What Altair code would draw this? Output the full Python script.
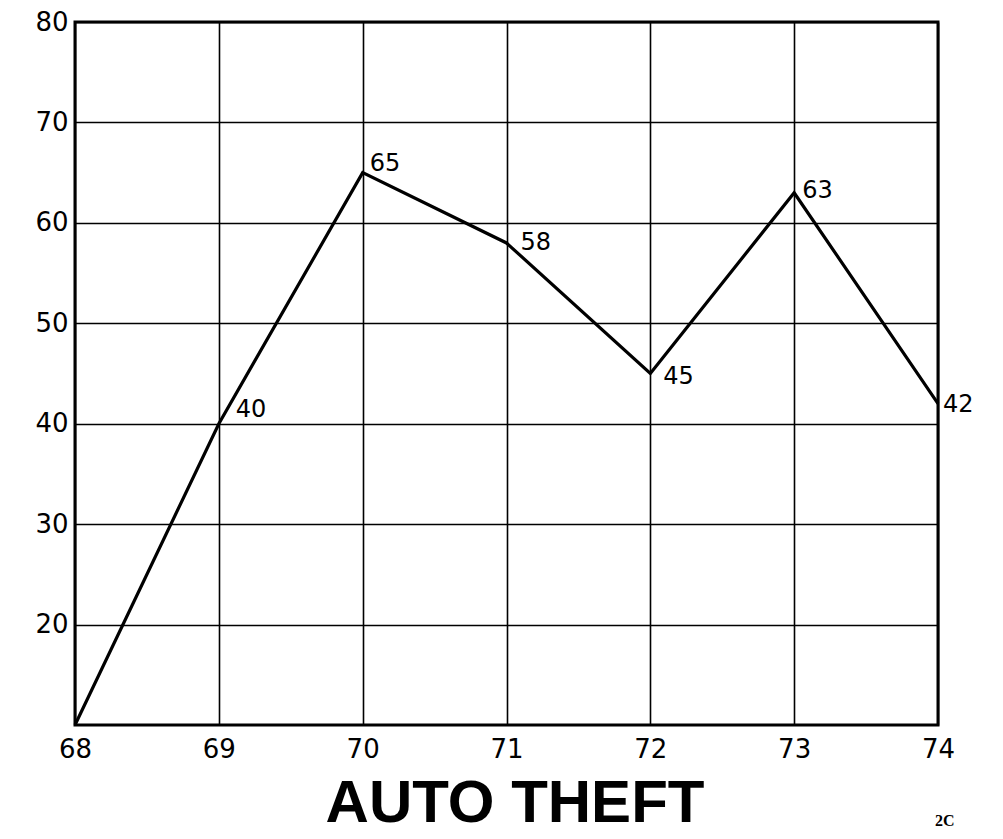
import altair as alt
import pandas as pd

years = [68, 69, 70, 71, 72, 73, 74]
thefts = [10, 40, 65, 58, 45, 63, 42]
y_ticks = [20, 30, 40, 50, 60, 70, 80]
title_text = "AUTO THEFT"
corner_note = "2C"

df = pd.DataFrame({"year": years, "thefts": thefts})
df["label"] = [str(v) for v in thefts]

# label offsets (style only): year -> (dx, dy)
label_offsets = {69: (17, -7), 70: (7, -2), 71: (14, 7), 72: (13, 10), 73: (8, 5), 74: (5, 8)}

x_enc = alt.X("year:Q", scale=alt.Scale(domain=[68, 74], nice=False),
              axis=alt.Axis(values=years, title=None, format="d", grid=True,
                            labelPadding=11, labelFlush=False))
y_enc = alt.Y("thefts:Q", scale=alt.Scale(domain=[10, 80], nice=False, zero=False),
              axis=alt.Axis(values=y_ticks, title=None, grid=True, labelPadding=7))

base = alt.Chart(df)
line = base.mark_line(color="black", strokeWidth=3.2, clip=False).encode(x=x_enc, y=y_enc)

layers = [line]
for yr, (dx, dy) in label_offsets.items():
    layers.append(
        base.transform_filter(alt.datum.year == yr)
        .mark_text(align="left", baseline="alphabetic", dx=dx, dy=dy,
                   font="DejaVu Sans", fontSize=24, color="black")
        .encode(x="year:Q", y="thefts:Q", text="label:N")
    )

title_df = pd.DataFrame({"t": [title_text]})
title_layer = alt.Chart(title_df).mark_text(
    align="center", baseline="alphabetic", font="Liberation Sans",
    fontWeight="bold", fontSize=60, color="black"
).encode(x=alt.value(440), y=alt.value(800), text="t:N")

note_df = pd.DataFrame({"t": [corner_note]})
note_layer = alt.Chart(note_df).mark_text(
    align="left", baseline="alphabetic", font="Liberation Serif",
    fontWeight="bold", fontSize=16, color="black"
).encode(x=alt.value(860), y=alt.value(804), text="t:N")

chart = alt.layer(*layers, title_layer, note_layer).properties(
    width=863, height=703,
    autosize=alt.AutoSizeParams(type="none"),
    padding={"left": 67, "top": 14, "right": 57, "bottom": 114},
    background="white",
).configure_view(
    stroke="black", strokeWidth=3
).configure_axis(
    labelFont="DejaVu Sans", labelFontSize=26, labelColor="black",
    ticks=False, domain=False, gridColor="black", gridWidth=1.6, gridOpacity=1
)

chart.save("out.html", embed_options={"renderer": "svg", "actions": False})
